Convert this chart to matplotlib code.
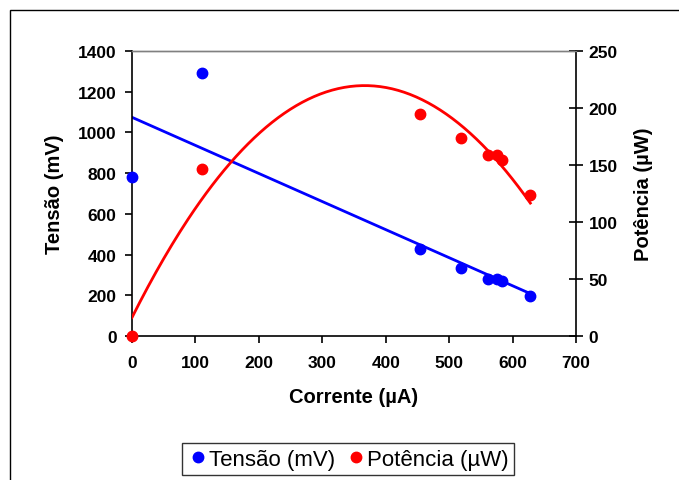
import numpy as np
import matplotlib.pyplot as plt
from matplotlib.patches import Rectangle
from matplotlib.lines import Line2D

plt.rcParams['font.family'] = ['Liberation Sans', 'DejaVu Sans']

# current (uA), voltage (mV), power (uW)
corrente = [0, 111, 454, 519, 562, 576, 583, 628]
tensao = [781, 1292, 427, 335, 280, 279, 269, 196]
potencia = [0, 146.5, 195, 174, 159, 158.5, 154, 124]

x_ticks = [0, 100, 200, 300, 400, 500, 600, 700]
y1_ticks = [0, 200, 400, 600, 800, 1000, 1200, 1400]
y2_ticks = [0, 50, 100, 150, 200, 250]

blue = '#0000ff'
red = '#ff0000'

fig = plt.figure(figsize=(6.79, 4.81), dpi=100)
ax = fig.add_axes([0.1944, 0.2994, 0.6539, 0.5925])
ax2 = ax.twinx()

# trend lines: linear for voltage, 2nd order polynomial for power
xs = np.linspace(min(corrente), max(corrente), 200)
lin = np.polyfit(corrente, tensao, 1)
quad = np.polyfit(corrente, potencia, 2)
ax.plot(xs, np.polyval(lin, xs), color=blue, lw=2.0, zorder=2)
ax2.plot(xs, np.polyval(quad, xs), color=red, lw=2.0, zorder=2)

ax.plot(corrente, tensao, 'o', color=blue, ms=7.5, zorder=3, clip_on=False)
ax2.plot(corrente, potencia, 'o', color=red, ms=7.5, zorder=3, clip_on=False)

ax.set_xlim(0, 700)
ax.set_ylim(0, 1400)
ax2.set_ylim(0, 250)
ax.set_xticks(x_ticks)
ax.set_yticks(y1_ticks)
ax2.set_yticks(y2_ticks)

for a in (ax, ax2):
    for s in a.spines.values():
        s.set_linewidth(1.2)
    a.spines['top'].set_color('#808080')
    a.spines['top'].set_linewidth(1.0)
ax.spines['right'].set_visible(False)
ax2.spines['left'].set_visible(False)
ax2.spines['bottom'].set_visible(False)

ax.tick_params(axis='y', direction='out', length=5, width=1.2, pad=6,
               labelsize=12.5)
ax.tick_params(axis='x', direction='out', length=5, width=1.2, pad=9,
               labelsize=12.5)
ax2.tick_params(axis='y', direction='inout', length=10, width=1.2, pad=4,
                labelsize=12.5)
for lab in ax.get_xticklabels() + ax.get_yticklabels() + ax2.get_yticklabels():
    lab.set_fontweight('bold')

ax.set_xlabel('Corrente (µA)', fontsize=14.5, fontweight='bold', labelpad=12)
ax.set_ylabel('Tensão (mV)', fontsize=14.5, fontweight='bold', labelpad=10)
ax2.set_ylabel('Potência (µW)', fontsize=14.5, fontweight='bold',
               labelpad=12, rotation=90)

handles = [
    Line2D([], [], ls='none', marker='o', color=blue, ms=7.5),
    Line2D([], [], ls='none', marker='o', color=red, ms=7.5),
]
leg = fig.legend(handles, ['Tensão (mV)', 'Potência (µW)'], loc='center',
                 bbox_to_anchor=(0.513, 0.043), ncol=2, fontsize=16,
                 frameon=True, fancybox=False, handletextpad=0.05,
                 columnspacing=0.5, borderpad=0.25, handlelength=0.9,
                 borderaxespad=0.2)
leg.get_frame().set_edgecolor('black')
leg.get_frame().set_linewidth(1.0)

# outer chart frame
fig.add_artist(Rectangle((0.0147, -0.1), 1.2, 1.077, transform=fig.transFigure,
                         fill=False, ec='black', lw=1.0))

fig.savefig('out.png', dpi=100)
